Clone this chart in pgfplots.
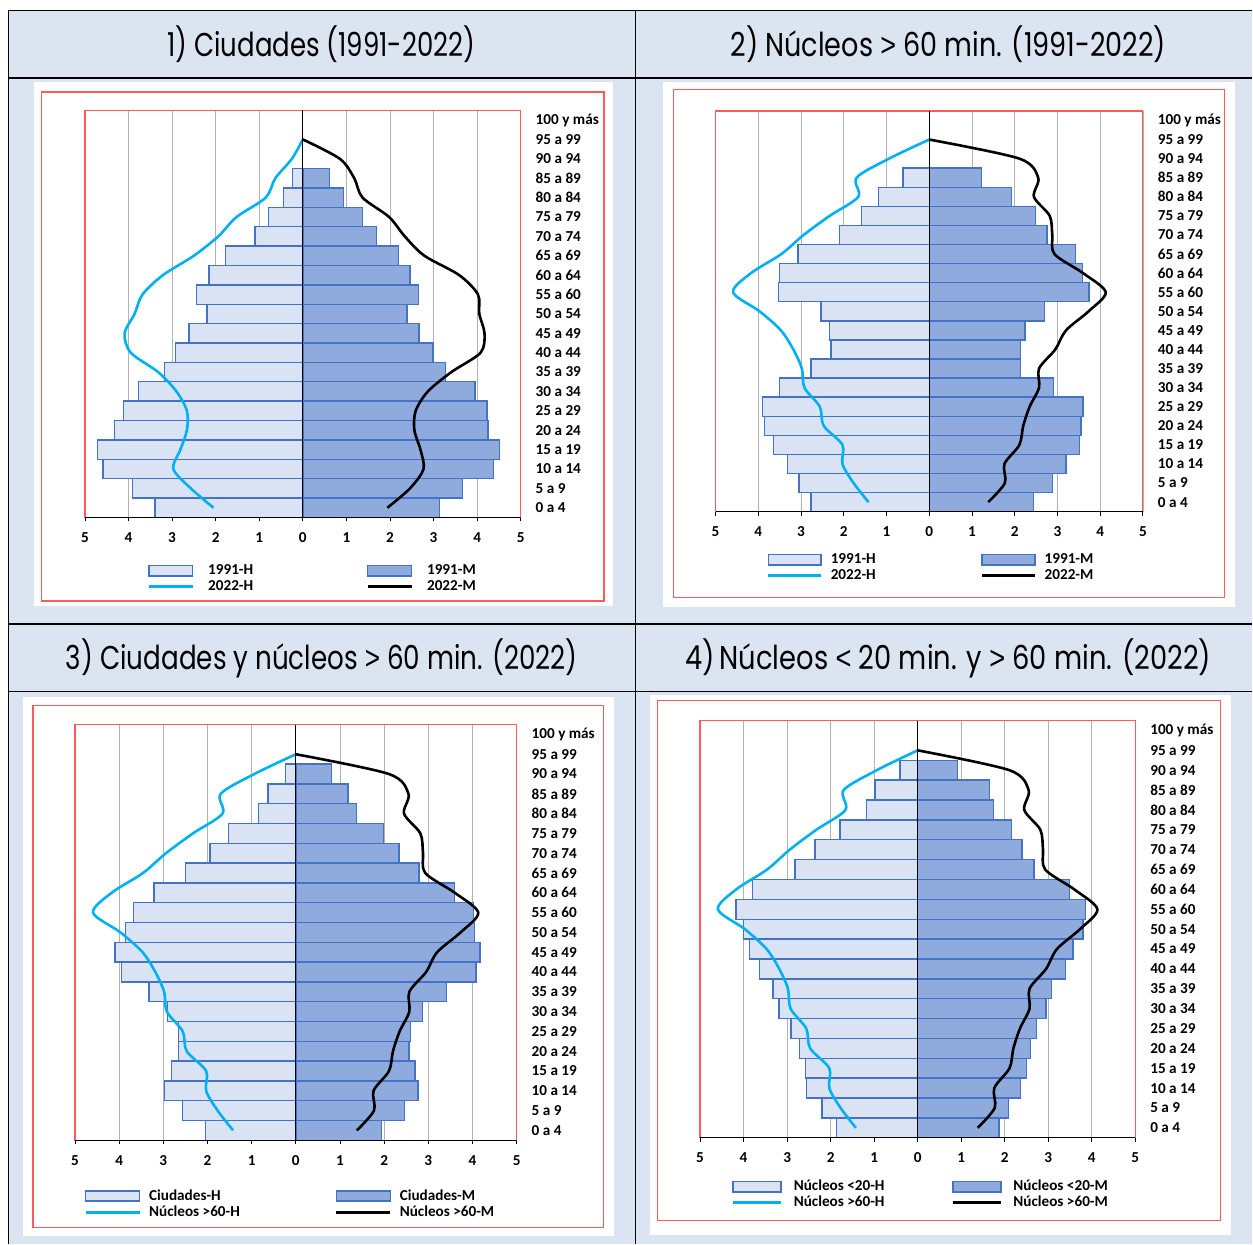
\documentclass[border=0pt]{standalone}
\usepackage{pgfplots}
\pgfplotsset{compat=1.18}
\usepackage{pgfplotstable}
\usepackage{graphicx}
\usepackage{fontspec}
\setmainfont{Carlito}
\newfontfamily\titlefont{Poppins}
\newfontfamily\symfont{Liberation Sans}
\newcommand{\tgt}{{\symfont >}}
\newcommand{\tlt}{{\symfont <}}
\definecolor{cellbg}{HTML}{DBE5F1}
\definecolor{hfill}{HTML}{DAE3F3}
\definecolor{mfill}{HTML}{8FAADC}
\definecolor{barline}{HTML}{4472C4}
\definecolor{hline}{HTML}{00B0F0}
\definecolor{redframe}{HTML}{FF5A5A}

% Panel 1: 1991 Ciudades
\pgfplotstableread{
y h m
0 -3.39 3.14
1 -3.91 3.66
2 -4.59 4.38
3 -4.71 4.51
4 -4.32 4.25
5 -4.11 4.23
6 -3.77 3.95
7 -3.18 3.28
8 -2.92 2.99
9 -2.61 2.67
10 -2.20 2.39
11 -2.44 2.65
12 -2.15 2.46
13 -1.77 2.19
14 -1.10 1.69
15 -0.79 1.37
16 -0.45 0.94
17 -0.23 0.61
}\ciudA
% Ciudades 2022
\pgfplotstableread{
y h m
0 -2.05 1.94
1 -2.57 2.46
2 -2.97 2.77
3 -2.81 2.70
4 -2.66 2.56
5 -2.66 2.59
6 -2.90 2.87
7 -3.32 3.41
8 -3.95 4.08
9 -4.09 4.17
10 -3.86 4.05
11 -3.68 4.02
12 -3.21 3.59
13 -2.50 2.79
14 -1.94 2.34
15 -1.52 1.98
16 -0.85 1.37
17 -0.63 1.18
18 -0.23 0.81
}\ciudB
\pgfplotstableread{
y h m
0 -2.05 1.94
1 -2.57 2.46
2 -2.97 2.77
3 -2.81 2.70
4 -2.66 2.56
5 -2.66 2.59
6 -2.90 2.87
7 -3.32 3.41
8 -3.95 4.08
9 -4.09 4.17
10 -3.86 4.05
11 -3.68 4.02
12 -3.21 3.59
13 -2.50 2.79
14 -1.94 2.34
15 -1.52 1.98
16 -0.85 1.37
17 -0.63 1.18
18 -0.25 0.85
19 0.00 0.00
}\ciudBline
% Nucleos > 60 min, 1991
\pgfplotstableread{
y h m
0 -2.77 2.44
1 -3.05 2.89
2 -3.32 3.20
3 -3.65 3.52
4 -3.85 3.55
5 -3.90 3.60
6 -3.51 2.91
7 -2.77 2.14
8 -2.30 2.14
9 -2.33 2.24
10 -2.53 2.70
11 -3.53 3.74
12 -3.51 3.58
13 -3.07 3.42
14 -2.10 2.76
15 -1.59 2.49
16 -1.18 1.93
17 -0.61 1.23
}\nucA
% Nucleos > 60 min, 2022 (lines)
\pgfplotstableread{
y h m
0 -1.42 1.38
1 -1.77 1.77
2 -2.03 1.76
3 -2.03 2.11
4 -2.47 2.20
5 -2.56 2.35
6 -2.92 2.57
7 -2.98 2.57
8 -3.18 2.95
9 -3.47 3.20
10 -3.97 3.73
11 -4.59 4.13
12 -4.17 3.60
13 -3.46 2.93
14 -2.94 2.88
15 -2.33 2.82
16 -1.66 2.45
17 -1.70 2.55
18 -0.94 2.11
19 0.00 0.00
}\nucB
% Nucleos < 20 min, 2022
\pgfplotstableread{
y h m
0 -1.87 1.87
1 -2.20 2.09
2 -2.56 2.36
3 -2.58 2.50
4 -2.72 2.59
5 -2.91 2.73
6 -3.19 2.95
7 -3.32 3.08
8 -3.64 3.40
9 -3.87 3.57
10 -4.00 3.80
11 -4.17 3.85
12 -3.80 3.49
13 -2.82 2.67
14 -2.36 2.40
15 -1.78 2.15
16 -1.17 1.74
17 -0.98 1.65
18 -0.41 0.91
}\nucC

\newcommand{\lfont}{\bfseries\fontsize{7.6}{8}\selectfont}

\pgfplotsset{
  pyr/.style={
    scale only axis,
    xmin=-5, xmax=5, ymin=-0.5, ymax=20.5,
    xtick={-5,...,5},
    xticklabels={5,4,3,2,1,0,1,2,3,4,5},
    ytick={0,...,20},
    yticklabels={0 a 4,5 a 9,10 a 14,15 a 19,20 a 24,25 a 29,30 a 34,35 a 39,40 a 44,45 a 49,50 a 54,55 a 60,60 a 64,65 a 69,70 a 74,75 a 79,80 a 84,85 a 89,90 a 94,95 a 99,100 y más},
    yticklabel pos=right,
    ytick style={draw=none},
    xtick pos=left,
    tick align=outside,
    major tick length=2pt,
    xtick style={black, line width=0.4pt},
    xmajorgrids,
    grid style={gray!60, line width=0.35pt},
    axis line style={redframe, line width=0.6pt},
    tick label style={font=\lfont},
    yticklabel style={anchor=west, xshift=2pt},
    xticklabel style={yshift=-2pt},
    legend columns=2,
    legend cell align=left,
    legend style={draw=none, fill=none, inner sep=0pt, anchor=north west,
      font=\lfont,
      nodes={inner sep=0.5pt, text height=5.5pt, text depth=1.5pt}},
  },
  hbar/.style={xbar, bar width=1, bar shift=0pt, fill=hfill, draw=barline, line width=0.7pt,
    legend image code/.code={\draw[fill=hfill, draw=barline, line width=0.8pt] (0pt,-2.6pt) rectangle (\swl,2.6pt);}},
  mbar/.style={xbar, bar width=1, bar shift=0pt, fill=mfill, draw=barline, line width=0.7pt,
    legend image code/.code={\draw[fill=mfill, draw=barline, line width=0.8pt] (0pt,-2.6pt) rectangle (\swl,2.6pt);}},
  hl/.style={hline, line width=1.3pt, smooth, no markers,
    legend image code/.code={\draw[hline, line width=1.5pt] (0pt,0pt) -- (\swl,0pt);}},
  ml/.style={black, line width=1.3pt, smooth, no markers,
    legend image code/.code={\draw[black, line width=1.5pt] (0pt,0pt) -- (\swl,0pt);}},
}
\newcommand{\decor}{%
  \draw[black, line width=0.6pt] (axis cs:-5,-0.5) -- (axis cs:5,-0.5);
  \draw[black, line width=0.6pt] (axis cs:0,-0.5) -- (axis cs:0,20.5);
}

\begin{document}
\begin{tikzpicture}
\begin{scope}[x=0.5pt, y=-0.5pt]
  \fill[white] (0,0) rectangle (1253,1245);
  \fill[cellbg] (8,10) rectangle (1253,1245);
  % white chart areas
  \fill[white] (34,82) rectangle (613,606);
  \fill[white] (663,82) rectangle (1236,607);
  \fill[white] (22.7,697) rectangle (614,1237);
  \fill[white] (650,695) rectangle (1232,1236);
  % outer red frames
  \draw[redframe, line width=0.7pt] (41.5,92) rectangle (604.5,601.5);
  \draw[redframe, line width=0.7pt] (674,89.5) rectangle (1225.5,598);
  \draw[redframe, line width=0.7pt] (33,706) rectangle (604,1228);
  \draw[redframe, line width=0.7pt] (658,701) rectangle (1221,1221);
  % table lines
  \draw[black, line width=0.8pt] (8,10.5) -- (1253,10.5);
  \draw[black, line width=0.8pt] (8.5,10) -- (8.5,1245);
  \draw[black, line width=0.8pt] (636,10) -- (636,1245);
  \draw[black, line width=0.8pt] (8,78) -- (1253,78);
  \draw[black, line width=0.8pt] (8,624.5) -- (1253,624.5);
  \draw[black, line width=0.8pt] (8,692) -- (1253,692);
  % titles
  \node[anchor=base, inner sep=0pt] at (321.5,57) {\resizebox{154pt}{\height}{\titlefont\fontsize{16.5}{18}\selectfont 1) Ciudades (1991-2022)}};
  \node[anchor=base, inner sep=0pt] at (949,57) {\resizebox{218pt}{\height}{\titlefont\fontsize{16.5}{18}\selectfont 2) Núcleos \tgt{} 60 min. (1991-2022)}};
  \node[anchor=base, inner sep=0pt] at (322,670) {\resizebox{256pt}{\height}{\titlefont\fontsize{16.5}{18}\selectfont 3) Ciudades y núcleos \tgt{} 60 min. (2022)}};
  \node[anchor=base, inner sep=0pt] at (949,670) {\resizebox{263pt}{\height}{\titlefont\fontsize{16.5}{18}\selectfont 4)\,Núcleos \tlt{} 20 min. y \tgt{} 60 min. (2022)}};
  % axis anchors
  \coordinate (a1) at (85,517.8);
  \coordinate (a2) at (716,512);
  \coordinate (a3) at (75,1141);
  \coordinate (a4) at (700.5,1138.5);
\end{scope}

% Panel 1
\def\swl{22pt}
\begin{axis}[pyr, at={(a1)}, anchor=south west, width=218pt, height=203.7pt,
  legend style={at={(axis description cs:0.142,-0.110)},
    /tikz/column 1/.style={column sep=6.5pt},
    /tikz/column 2/.style={column sep=56pt},
    /tikz/column 3/.style={column sep=6.5pt}}]
  \addplot[hbar] table[x=h, y=y] {\ciudA};
  \addplot[mbar] table[x=m, y=y] {\ciudA};
  \addplot[hl] table[x=h, y=y] {\ciudBline};
  \addplot[ml] table[x=m, y=y] {\ciudBline};
  \decor
  \legend{1991-H,1991-M,2022-H,2022-M}
\end{axis}

% Panel 2
\begin{axis}[pyr, at={(a2)}, anchor=south west, width=213.8pt, height=200.5pt,
  legend style={at={(axis description cs:0.119,-0.099)},
    /tikz/column 1/.style={column sep=3.5pt},
    /tikz/column 2/.style={column sep=52pt},
    /tikz/column 3/.style={column sep=3.5pt}}]
  \def\swl{26.5pt}
  \addplot[hbar] table[x=h, y=y] {\nucA};
  \addplot[mbar] table[x=m, y=y] {\nucA};
  \addplot[hl] table[x=h, y=y] {\nucB};
  \addplot[ml] table[x=m, y=y] {\nucB};
  \decor
  \legend{1991-H,1991-M,2022-H,2022-M}
\end{axis}

% Panel 3
\begin{axis}[pyr, at={(a3)}, anchor=south west, width=221pt, height=208pt,
  legend style={at={(axis description cs:0.020,-0.114)},
    /tikz/column 1/.style={column sep=3.5pt},
    /tikz/column 2/.style={column sep=47pt},
    /tikz/column 3/.style={column sep=3.5pt}}]
  \def\swl{27pt}
  \addplot[hbar] table[x=h, y=y] {\ciudB};
  \addplot[mbar] table[x=m, y=y] {\ciudB};
  \addplot[hl] table[x=h, y=y] {\nucB};
  \addplot[ml] table[x=m, y=y] {\nucB};
  \decor
  \legend{Ciudades-H,Ciudades-M,Núcleos >60-H,Núcleos >60-M}
\end{axis}

% Panel 4
\begin{axis}[pyr, at={(a4)}, anchor=south west, width=217.75pt, height=208.75pt,
  legend style={at={(axis description cs:0.072,-0.097)},
    /tikz/column 1/.style={column sep=5pt},
    /tikz/column 2/.style={column sep=33pt},
    /tikz/column 3/.style={column sep=5pt}}]
  \def\swl{24pt}
  \addplot[hbar] table[x=h, y=y] {\nucC};
  \addplot[mbar] table[x=m, y=y] {\nucC};
  \addplot[hl] table[x=h, y=y] {\nucB};
  \addplot[ml] table[x=m, y=y] {\nucB};
  \decor
  \legend{Núcleos <20-H,Núcleos <20-M,Núcleos >60-H,Núcleos >60-M}
\end{axis}
\end{tikzpicture}
\end{document}
